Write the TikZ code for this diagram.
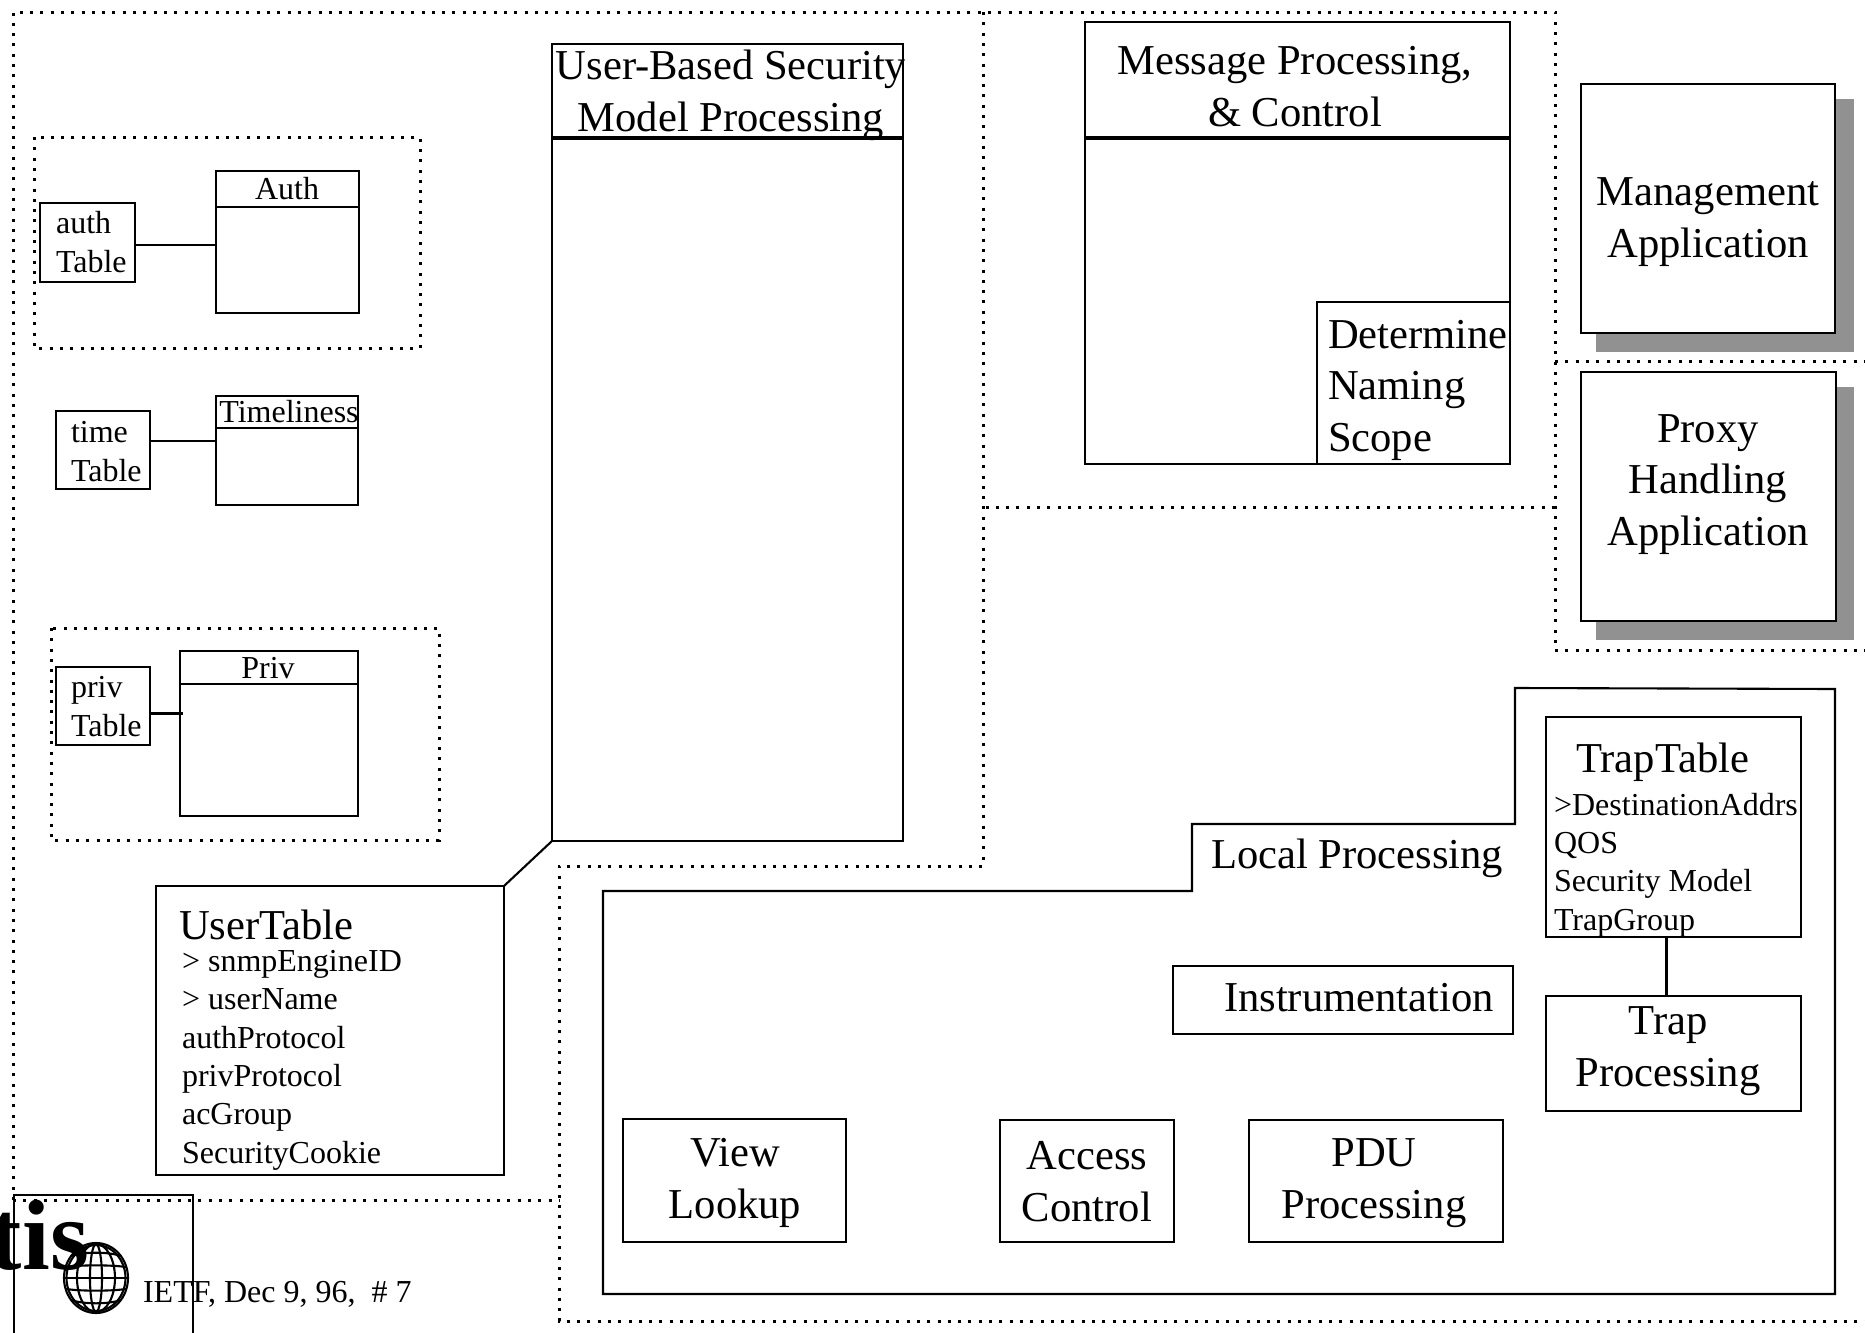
\documentclass[tikz,border=0pt]{standalone}
\usepackage{fontspec}
\setmainfont{Liberation Serif}
\usetikzlibrary{positioning}

\begin{document}
\begin{tikzpicture}[x=0.5pt, y=-0.5pt, line width=1.05pt,
		sz/.style 2 args={minimum width=#1*0.5pt, minimum height=#2*0.5pt},
		box/.style={draw, rectangle, inner sep=0pt, outer sep=0pt, anchor=north west},
		big/.style={font=\fontsize{21.3}{25.6}\selectfont, inner sep=0pt},
		small/.style={font=\fontsize{16}{19.15}\selectfont, inner sep=0pt},
		shade/.style={fill=black!43},
		rule/.style={line width=1.7pt},
		region/.style={line width=1.5pt, dash pattern=on 1.5pt off 3.65pt}]
		\useasboundingbox (0,0) rectangle (1865,1333);

		\draw[region] (13,1200) -- (13,12) -- (1555,12) -- (1555,650) -- (1865,650);
		\draw[region] (1555,361) -- (1865,361);
		\draw[region] (1555,507) -- (983,507);
		\draw[region] (983,12) -- (983,866) -- (559,866) -- (559,1321) -- (1865,1321);
		\draw[region] (13,1200) -- (559,1200);
		\draw[region] (34,137) rectangle (420,348);
		\draw[region] (51,628) rectangle (439,840);

		\fill[shade] (1596,99) rectangle (1854,352);
		\fill[shade] (1596,387) rectangle (1854,640);

		\node [box, fill=white, sz={254}{249}] (mgmt) at (1581,84) {};
		\node [box, fill=white, sz={255}{249}] (proxy) at (1581,372) {};
		\node [box, sz={95}{79}] (authtab) at (40,203) {};
		\node [box, sz={143}{36}] (authhead) at (216,171) {};
		\node [box, sz={143}{106}, below=0pt of authhead] (auth) {};
		\node [box, sz={94}{78}] (timetab) at (56,411) {};
		\node [box, sz={142}{32}] (timehead) at (216,396) {};
		\node [box, sz={142}{77}, below=0pt of timehead] (time) {};
		\node [box, sz={94}{78}] (privtab) at (56,667) {};
		\node [box, sz={178}{33}] (privhead) at (180,651) {};
		\node [box, sz={178}{132}, below=0pt of privhead] (priv) {};
		\node [box, sz={351}{94}] (usmhead) at (552,44) {};
		\node [box, sz={351}{703}, below=0pt of usmhead] (usm) {};
		\node [box, sz={348}{289}] (usertab) at (156,886) {};
		\node [box, sz={425}{116}] (msghead) at (1085,22) {};
		\node [box, sz={425}{326}, below=0pt of msghead] (msg) {};
		\node [box, sz={193}{162}, anchor=south east] (scope) at (msg.south east) {};
		\node [box, sz={255}{220}] (traptab) at (1546,717) {};
		\node [box, sz={255}{115}] (trapproc) at (1546,996) {};
		\node [box, sz={340}{68}] (instr) at (1173,966) {};
		\node [box, sz={223}{123}] (view) at (623,1119) {};
		\node [box, sz={174}{122}] (access) at (1000,1120) {};
		\node [box, sz={254}{122}] (pdu) at (1249,1120) {};
		\node [box, sz={179}{160}] (logo) at (14,1195) {};

		\draw (603,891) -- (1192,891) -- (1192,824) -- (1515,824) -- (1515,688) -- (1835,689) -- (1835,1294) -- (603,1294) -- cycle;

		\draw[rule] (usmhead.south west) -- (usmhead.south east);
		\draw[rule] (msghead.south west) -- (msghead.south east);
		\draw ([yshift=-1.25pt]authtab.east) -- ([yshift=-1.25pt]authtab.east -| auth.west);
		\draw ([yshift=4.5pt]timetab.east) -- ([yshift=4.5pt]timetab.east -| time.west);
		\draw ([yshift=-3.75pt]privtab.east) -- ([yshift=-3.75pt,xshift=1.5pt]privtab.east -| priv.west);
		\draw (usm.south west) -- (usertab.north east);
		\draw ([xshift=-3.5pt]traptab.south) -- ([xshift=-3.5pt]trapproc.north);

		\node [big, anchor=base, align=center] (mgmttext) at (1708,257) {Management\\Application};
		\node [big, anchor=base, align=center] (proxytext) at (1708,545) {Proxy\\Handling\\Application};
		\node [big, anchor=base, align=center] (usmtext) at (731,131) {User-Based Security\\Model Processing};
		\node [big, anchor=base, align=center] (msgtext) at (1295,126) {Message Processing,\\\& Control};
		\node [big, anchor=base west, align=left] (scopetext) at (1327,451) {Determine\\Naming\\Scope};
		\node [big, anchor=base west] (localtext) at (1210,868) {Local Processing};
		\node [big, anchor=base west] (traptext) at (1575,772) {TrapTable};
		\node [small, anchor=base west, align=left] (trapattr) at (1553,930) {>DestinationAddrs\\QOS\\Security Model\\TrapGroup};
		\node [big, anchor=base, align=center] (trapprocext) at (1668,1086) {Trap\\Processing};
		\node [big, anchor=base west] (instrtext) at (1223,1011) {Instrumentation};
		\node [big, anchor=base, align=center] (viewtext) at (735,1218) {View\\Lookup};
		\node [big, anchor=base, align=center] (accesstext) at (1087,1221) {Access\\Control};
		\node [big, anchor=base, align=center] (pdutext) at (1374,1218) {PDU\\Processing};
		\node [big, anchor=base west] (usertext) at (178,939) {UserTable};
		\node [small, anchor=base west, align=left] (userattr) at (181,1163) {> snmpEngineID\\> userName\\authProtocol\\privProtocol\\acGroup\\SecurityCookie};
		\node [small, anchor=base west, align=left] (authtext) at (55,272) {auth\\ Table};
		\node [small, anchor=base west, align=left] (timetext) at (70,481) {time\\ Table};
		\node [small, anchor=base west, align=left] (privtext) at (70,736) {priv\\ Table};
		\node [small, anchor=base] (authname) at (287,199) {Auth};
		\node [small, anchor=base] (timename) at (289,422) {Timeliness};
		\node [small, anchor=base] (privname) at (268,678) {Priv};

		\node [anchor=base east, inner sep=0pt, font=\fontsize{50}{50}\selectfont\bfseries] (tis) at (90,1269) {tis};
		\node [small, anchor=base west] (date) at (142,1302) {IETF, Dec 9, 96,\ \ \# 7};

		\draw (96,1278) ellipse ({32} and {35});
		\draw (96,1278) ellipse ({29.5} and {33});
		\foreach \rad in {6,19}
			\draw (96,1278) ellipse ({\rad} and {34});
		\draw (64,1278) -- (128,1278);
		\foreach \d/\w in {-22/25, -11/30, 11/30, 22/25}
			\draw ({96-\w},{1278+\d}) .. controls ({96-\w/2},{1278+\d*1.2}) and ({96+\w/2},{1278+\d*1.2}) .. ({96+\w},{1278+\d});
	\end{tikzpicture}
\end{document}
